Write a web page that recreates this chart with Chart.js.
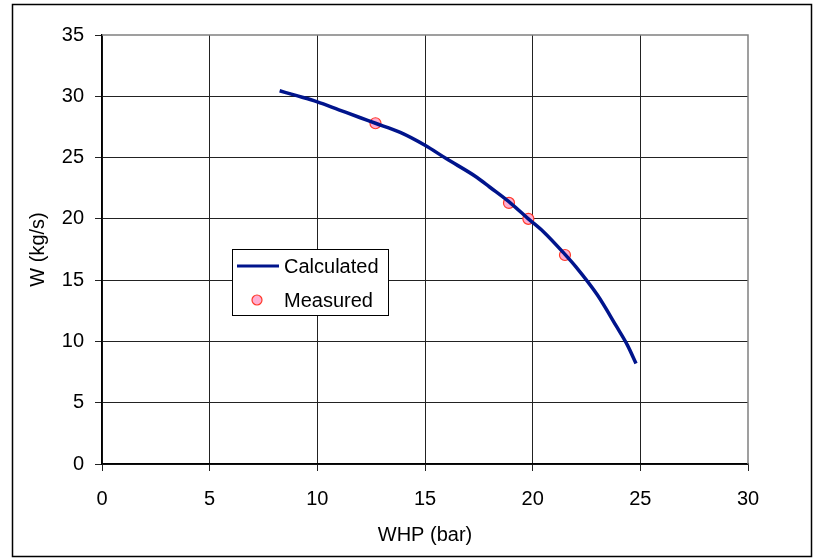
<!DOCTYPE html>
<html>
<head>
<meta charset="utf-8">
<script src="https://cdn.jsdelivr.net/npm/chart.js@4"></script>
<style>
  html,body{margin:0;padding:0;background:#fff;}
  #wrap{width:815px;height:558px;position:relative;}
</style>
</head>
<body>
<div id="wrap"><canvas id="chart" width="815" height="558"></canvas></div>
<script>
// ---------------- DATA ----------------
const calcWhp = [8.25, 9, 10, 11, 12, 12.7, 13.85, 15, 16, 17.4, 18, 19, 19.8, 20.5, 21.5, 22, 23, 23.9, 24.4, 24.8];
const calcW   = [30.45, 30.07, 29.55, 28.9, 28.25, 27.8, 27.05, 26.0, 24.9, 23.4, 22.6, 21.25, 20.0, 18.95, 17.1, 16.1, 13.8, 11.2, 9.7, 8.2];
const measWhp = [12.7, 18.9, 19.8, 21.5];
const measW   = [27.8, 21.3, 20.0, 17.05];
const xTicks  = [0, 5, 10, 15, 20, 25, 30];
const yTicks  = [0, 5, 10, 15, 20, 25, 30, 35];

const FONT = "'Liberation Sans', Arial, sans-serif";
const LINE_COLOR = "#00148c";
const PT_FILL = "#ffaed2";
const PT_EDGE = "#ff3a2a";

// outer frame + legend box drawn inside the plot
const frameAndLegend = {
  id:"frameAndLegend",
  afterDraw(chart){
    const c = chart.ctx;
    const a = chart.chartArea;
    c.save();
    // gray plot border top / right
    c.strokeStyle = "#808080";
    c.lineWidth = 1.5;
    c.beginPath();
    c.moveTo(a.left, a.top); c.lineTo(a.right, a.top); c.lineTo(a.right, a.bottom);
    c.stroke();
    // outer frame
    c.strokeStyle = "#000";
    c.lineWidth = 1.5;
    c.strokeRect(12.5, 4.5, 799, 552);

    // legend
    const lx = 232, ly = 249, lw = 156, lh = 66;
    c.fillStyle = "#fff";
    c.fillRect(lx, ly, lw, lh);
    c.strokeStyle = "#000";
    c.lineWidth = 1;
    c.strokeRect(lx + 0.5, ly + 0.5, lw, lh);

    const ds = chart.data.datasets;
    c.strokeStyle = ds[0].borderColor;
    c.lineWidth = 3;
    c.beginPath(); c.moveTo(237, 266); c.lineTo(279, 266); c.stroke();

    c.fillStyle = ds[1].backgroundColor;
    c.strokeStyle = ds[1].borderColor;
    c.lineWidth = 1.2;
    c.beginPath(); c.arc(257, 300, 5, 0, Math.PI * 2); c.fill(); c.stroke();

    c.fillStyle = "#000";
    c.font = "20px " + FONT;
    c.textBaseline = "middle";
    c.textAlign = "left";
    c.fillText(ds[0].label, 284, 267);
    c.fillText(ds[1].label, 284, 301);
    c.restore();
  }
};

const gridColor = ctx => (ctx.tick && (ctx.tick.value === 30 && ctx.scale.axis === "x" || ctx.tick.value === 35 && ctx.scale.axis === "y")) ? "rgba(0,0,0,0)" : "#222";

new Chart(document.getElementById("chart"), {
  type:"scatter",
  data:{
    datasets:[
      {
        label:"Calculated",
        data: calcWhp.map((x,i)=>({x:x, y:calcW[i]})),
        showLine:true,
        borderColor:LINE_COLOR,
        backgroundColor:LINE_COLOR,
        borderWidth:3.5,
        pointRadius:0,
        cubicInterpolationMode:"monotone"
      },
      {
        label:"Measured",
        data: measWhp.map((x,i)=>({x:x, y:measW[i]})),
        showLine:false,
        backgroundColor:PT_FILL,
        borderColor:PT_EDGE,
        borderWidth:1.2,
        pointRadius:5.5
      }
    ]
  },
  options:{
    responsive:false,
    animation:false,
    layout:{ padding:{ left:12, top:35, right:67, bottom:0 } },
    plugins:{ legend:{ display:false }, tooltip:{ enabled:false } },
    scales:{
      x:{
        type:"linear",
        min:0, max:30,
        afterBuildTicks: s => { s.ticks = xTicks.map(v => ({value:v})); },
        afterFit: s => { s.height = 94; },
        grid:{ color:gridColor, lineWidth:1, tickLength:7, tickColor:"#222" },
        border:{ color:"#000", width:1.5 },
        ticks:{ color:"#000", font:{ family:FONT, size:20 }, padding:16, maxRotation:0 },
        title:{ display:true, text:"WHP (bar)", color:"#000", font:{ family:FONT, size:20 }, padding:{ top:0, bottom:11 } }
      },
      y:{
        type:"linear",
        min:0, max:35,
        afterBuildTicks: s => { s.ticks = yTicks.map(v => ({value:v})); },
        afterFit: s => { s.width = 90; },
        grid:{ color:gridColor, lineWidth:1, tickLength:7, tickColor:"#222" },
        border:{ color:"#000", width:1.5 },
        ticks:{ color:"#000", font:{ family:FONT, size:20 }, padding:11 },
        title:{ display:true, text:"W (kg/s)", color:"#000", font:{ family:FONT, size:20 }, padding:{ top:14, bottom:0 } }
      }
    }
  },
  plugins:[frameAndLegend]
});
</script>
</body>
</html>
